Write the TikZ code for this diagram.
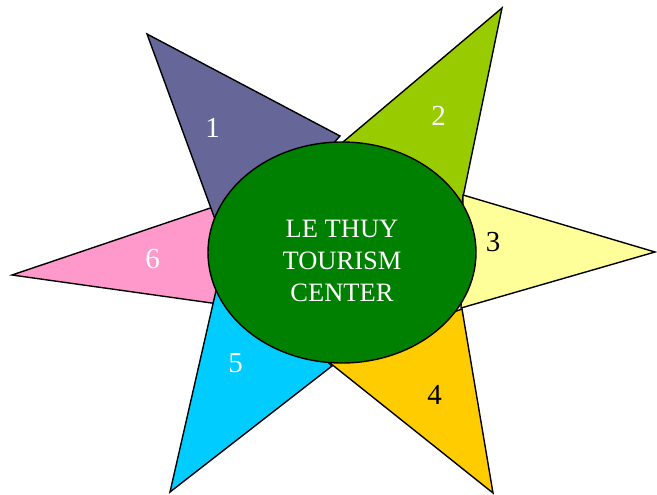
\documentclass[tikz,border=0pt]{standalone}
\usepackage{fontspec}
\setmainfont{Liberation Serif}
\usetikzlibrary{shapes.geometric}
\definecolor{cpurple}{HTML}{666699}
\definecolor{clime}{HTML}{99CC00}
\definecolor{cyellow}{HTML}{FFFF99}
\definecolor{cgold}{HTML}{FFCC00}
\definecolor{ccyan}{HTML}{00CCFF}
\definecolor{cpink}{HTML}{FF99CC}
\definecolor{cgreen}{HTML}{008000}
\tikzset{
  ray/.style={draw=black, line width=1.4pt, line join=miter},
  num/.style={font=\fontsize{29}{32}\selectfont, inner sep=0pt},
  hub/.style={ellipse, draw=black, line width=1.4pt, fill=cgreen, minimum width=268pt, minimum height=221pt, inner sep=0pt},
  hubtext/.style={font=\fontsize{26.5}{32}\selectfont, text=white, align=center, inner sep=0pt}
}
\begin{document}
\begin{tikzpicture}[x=1pt,y=-1pt]
\useasboundingbox (0,0) rectangle (657,495);
% ray 6 (pink)
\coordinate (p6a) at (12,275);
\coordinate (p6b) at (240,198);
\coordinate (p6c) at (240,307);
\fill[cpink] (p6a) -- (p6b) -- (p6c) -- cycle;
\draw[ray] (p6b) -- (p6a) -- (p6c);
% ray 1 (purple)
\coordinate (p1a) at (147,34);
\coordinate (p1b) at (340,136);
\coordinate (p1c) at (230,260);
\filldraw[ray, fill=cpurple] (p1a) -- (p1b) -- (p1c) -- cycle;
% ray 2 (lime)
\coordinate (p2a) at (502,8);
\coordinate (p2b) at (455,236);
\coordinate (p2c) at (330,153);
\filldraw[ray, fill=clime] (p2a) -- (p2b) -- (p2c) -- cycle;
% ray 3 (yellow)
\coordinate (p3a) at (463,195);
\coordinate (p3b) at (655,252);
\coordinate (p3c) at (461,308);
\filldraw[ray, fill=cyellow] (p3a) -- (p3b) -- (p3c) -- cycle;
% ray 4 (gold)
\coordinate (p4a) at (462,309);
\coordinate (p4b) at (493,493);
\coordinate (p4c) at (325,359);
\filldraw[ray, fill=cgold] (p4a) -- (p4b) -- (p4c) -- cycle;
% ray 5 (cyan)
\coordinate (p5a) at (170,492);
\coordinate (p5b) at (332,366);
\coordinate (p5c) at (223,260);
\filldraw[ray, fill=ccyan] (p5a) -- (p5b) -- (p5c) -- cycle;
% centre
\node[hub] (center) at (342,252.5) {};
\node[hubtext] (centertext) at (342,261.3) {LE THUY\\TOURISM\\CENTER};
% numbers
\node[num, text=white] (n1) at (212.5,128) {1};
\node[num, text=white] (n2) at (438.5,116) {2};
\node[num, text=black] (n3) at (493,242) {3};
\node[num, text=black] (n4) at (434.5,394.5) {4};
\node[num, text=white] (n5) at (235.5,363) {5};
\node[num, text=white] (n6) at (152.5,259.5) {6};
\end{tikzpicture}
\end{document}
